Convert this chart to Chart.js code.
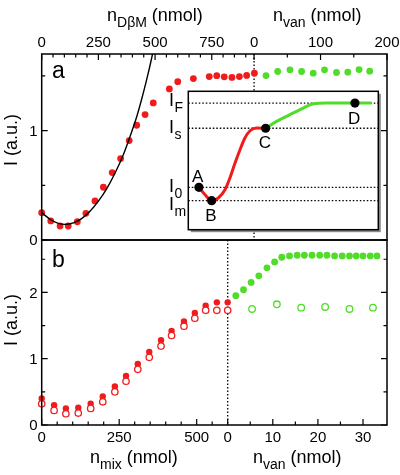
<!DOCTYPE html>
<html>
<head>
<meta charset="utf-8">
<script src="https://cdn.jsdelivr.net/npm/chart.js@4.4.1/dist/chart.umd.min.js"></script>
<style>
body { margin: 0; background: #fff; }
#wrap { position: relative; width: 400px; height: 475px; overflow: hidden; font-family: "Liberation Sans", Arial, sans-serif; }
canvas { position: absolute; left: 0; top: 0; }
.t { position: absolute; font-size: 18px; line-height: 18px; white-space: nowrap; color: #000; }
.t sub { font-size: 14px; vertical-align: -6px; line-height: 0; }
.rot { width: 80px; text-align: center; transform: rotate(-90deg); }
.pl { position: absolute; font-size: 23px; line-height: 23px; color: #000; }
</style>
</head>
<body>
<div id="wrap">
  <canvas id="pa" width="400" height="475"></canvas>
  <canvas id="pb" width="400" height="475"></canvas>
  <canvas id="ins" width="400" height="475"></canvas>
  <div class="t" style="left:107px;top:5.5px">n<sub>DβM</sub> (nmol)</div>
  <div class="t" style="left:273px;top:5.5px">n<sub>van</sub> (nmol)</div>
  <div class="t" style="left:90px;top:448px">n<sub>mix</sub> (nmol)</div>
  <div class="t" style="left:253px;top:448px">n<sub>van</sub> (nmol)</div>
  <div class="t rot" style="left:-29px;top:131px">I (a.u.)</div>
  <div class="t rot" style="left:-29px;top:311px">I (a.u.)</div>
  <div class="pl" style="left:52px;top:59px">a</div>
  <div class="pl" style="left:52px;top:248px">b</div>
</div>
<script>
// ---- panel a: D-beta-M titration (red), vancomycin (green), fit curve
const aDbmN = [0, 40, 81, 117, 157, 195, 235, 272, 311, 348, 386, 419, 456, 492, 563, 600, 669, 739, 772, 805, 839, 872, 904, 938];
const aDbmI = [0.250, 0.174, 0.128, 0.128, 0.167, 0.244, 0.357, 0.482, 0.616, 0.744, 0.909, 1.049, 1.146, 1.253, 1.381, 1.447, 1.475, 1.494, 1.502, 1.491, 1.486, 1.494, 1.504, 1.525];
const aVanN = [18, 35.5, 54, 71.5, 89, 106, 124, 141, 158, 174];
const aVanI = [1.503, 1.540, 1.555, 1.540, 1.525, 1.555, 1.531, 1.534, 1.558, 1.543];
const fitN = [0, 40, 73, 103, 140, 176, 213, 250, 287, 323, 360, 397, 418, 440, 460, 475, 490, 500];
const fitI = [0.25, 0.185, 0.152, 0.143, 0.157, 0.196, 0.263, 0.355, 0.47, 0.61, 0.78, 0.99, 1.12, 1.28, 1.44, 1.57, 1.71, 1.80];

// ---- panel b: mixture titration (filled / open), vancomycin (filled / open)
const bMixN = [0, 40, 78, 118, 158, 197, 236, 272, 310, 347, 385, 419, 459, 494, 529, 565, 600];
const bMixFilled = [0.40, 0.30, 0.25, 0.26, 0.32, 0.43, 0.58, 0.74, 0.92, 1.10, 1.28, 1.42, 1.56, 1.69, 1.80, 1.85, 1.85];
const bMixOpen = [0.32, 0.22, 0.17, 0.18, 0.25, 0.35, 0.50, 0.66, 0.84, 1.02, 1.19, 1.35, 1.49, 1.61, 1.73, 1.73, 1.73];
const bVanN = [1.8, 3.5, 5.2, 6.9, 8.7, 10.4, 12.0, 13.7, 15.4, 17.0, 18.7, 20.4, 22.0, 23.7, 25.4, 27.0, 28.5, 30.0, 31.6, 33.1];
const bVanFilled = [1.95, 2.04, 2.15, 2.25, 2.37, 2.46, 2.53, 2.55, 2.56, 2.56, 2.56, 2.56, 2.56, 2.55, 2.55, 2.55, 2.55, 2.55, 2.55, 2.55];
const bVanOpenN = [5.4, 10.9, 16.3, 21.6, 27.0, 32.2];
const bVanOpen = [1.75, 1.82, 1.77, 1.78, 1.75, 1.77];

// ---- inset (schematic, arbitrary units 0..100)
const insRedX = [5.6, 8.8, 12.3, 15.8, 19.3, 21.9, 24.6, 27.2, 29.8, 32.5, 36.0, 40.7];
const insRedY = [30.6, 25.3, 21.0, 22.9, 28.9, 37.4, 48.2, 57.8, 66.3, 71.5, 73.5, 73.3];
const insGreenX = [40.7, 46.5, 53.5, 60.5, 65.8, 72.8, 87.7, 96.5];
const insGreenY = [73.3, 78.3, 83.1, 87.9, 91.0, 91.5, 91.5, 91.5];
const insPtNames = ['A', 'B', 'C', 'D'];
const insPtX = [5.6, 12.3, 40.7, 87.7];
const insPtY = [30.6, 21.0, 73.3, 91.5];
const insLevels = [91.5, 73.3, 30.6, 21.0];
const insLevelNames = [['I', 'F'], ['I', 's'], ['I', '0'], ['I', 'm']];

// ---- ticks
const aTopD = [0, 250, 500, 750];
const aTopDLabels = ['0', '250', '500', '750'];
const aTopDMinor = [50, 100, 150, 200, 300, 350, 400, 450, 550, 600, 650, 700, 800, 850, 900];
const aTopV = [0, 100, 200];
const aTopVLabels = ['0', '100', '200'];
const aTopVMinor = [50, 150];
const aY = [0, 1];
const aYLabels = ['0', '1'];
const aYMinor = [0.5, 1.5];
const bBotM = [0, 250, 500];
const bBotMLabels = ['0', '250', '500'];
const bBotMMinor = [50, 100, 150, 200, 300, 350, 400, 450, 550];
const bBotV = [0, 10, 20, 30];
const bBotVLabels = ['0', '10', '20', '30'];
const bBotVMinor = [5, 15, 25];
const bY = [0, 1, 2];
const bYLabels = ['0', '1', '2'];
const bYMinor = [0.5, 1.5, 2.5];

const RED = '#f01c1c';
const GREEN = '#50dc28';
const fnt = s => s + 'px "Liberation Sans", Arial, sans-serif';
const pts = (xs, ys) => xs.map((x, i) => ({ x: x, y: ys[i] }));

function ticks(ctx, a, scale, vals, edge, len) {
  ctx.beginPath();
  vals.forEach(v => {
    const p = scale.getPixelForValue(v);
    if (edge === 'top') { ctx.moveTo(p, a.top); ctx.lineTo(p, a.top + len); }
    if (edge === 'bottom') { ctx.moveTo(p, a.bottom); ctx.lineTo(p, a.bottom - len); }
    if (edge === 'left') { ctx.moveTo(a.left, p); ctx.lineTo(a.left + len, p); }
    if (edge === 'right') { ctx.moveTo(a.right, p); ctx.lineTo(a.right - len, p); }
  });
  ctx.stroke();
}

function labels(ctx, a, scale, vals, texts, edge) {
  ctx.font = fnt(15);
  ctx.fillStyle = '#000';
  ctx.textBaseline = 'alphabetic';
  vals.forEach((v, i) => {
    const p = scale.getPixelForValue(v);
    if (edge === 'top') { ctx.textAlign = 'center'; ctx.fillText(texts[i], p, a.top - 6.7); }
    if (edge === 'bottom') { ctx.textAlign = 'center'; ctx.fillText(texts[i], p, a.bottom + 17.3); }
    if (edge === 'left') { ctx.textAlign = 'right'; ctx.fillText(texts[i], a.left - 4, p + 5.3); }
  });
}

function dotted(ctx, x1, y1, x2, y2) {
  ctx.save();
  ctx.setLineDash([1.5, 2]);
  ctx.lineWidth = 1.3;
  ctx.strokeStyle = '#000';
  ctx.beginPath();
  ctx.moveTo(x1, y1);
  ctx.lineTo(x2, y2);
  ctx.stroke();
  ctx.restore();
}

function frame(ctx, a) {
  ctx.strokeStyle = '#000';
  ctx.lineWidth = 1.5;
  ctx.strokeRect(a.left, a.top, a.right - a.left, a.bottom - a.top);
  ctx.lineWidth = 1.2;
}

const frameA = {
  id: 'frameA',
  beforeDatasetsDraw(chart) {
    const a = chart.chartArea;
    const x = chart.scales.xv.getPixelForValue(0);
    dotted(chart.ctx, x, a.top, x, a.bottom);
  },
  afterDatasetsDraw(chart) {
    const { ctx, chartArea: a, scales: s } = chart;
    ctx.save();
    frame(ctx, a);
    ticks(ctx, a, s.xd, aTopD, 'top', 6);
    ticks(ctx, a, s.xd, aTopDMinor, 'top', 3.5);
    ticks(ctx, a, s.xv, aTopV, 'top', 6);
    ticks(ctx, a, s.xv, aTopVMinor, 'top', 3.5);
    ticks(ctx, a, s.y, aY, 'left', 6);
    ticks(ctx, a, s.y, aYMinor, 'left', 3.5);
    ticks(ctx, a, s.y, aY, 'right', 6);
    ticks(ctx, a, s.y, aYMinor, 'right', 3.5);
    labels(ctx, a, s.xd, aTopD, aTopDLabels, 'top');
    labels(ctx, a, s.xv, aTopV, aTopVLabels, 'top');
    labels(ctx, a, s.y, aY, aYLabels, 'left');
    ctx.restore();
  }
};

const frameB = {
  id: 'frameB',
  beforeDatasetsDraw(chart) {
    const a = chart.chartArea;
    const x = chart.scales.xv.getPixelForValue(0);
    dotted(chart.ctx, x, a.top, x, a.bottom);
  },
  afterDatasetsDraw(chart) {
    const { ctx, chartArea: a, scales: s } = chart;
    ctx.save();
    frame(ctx, a);
    ticks(ctx, a, s.xm, bBotM, 'bottom', 6);
    ticks(ctx, a, s.xm, bBotMMinor, 'bottom', 3.5);
    ticks(ctx, a, s.xv, bBotV, 'bottom', 6);
    ticks(ctx, a, s.xv, bBotVMinor, 'bottom', 3.5);
    ticks(ctx, a, s.y, bY, 'left', 6);
    ticks(ctx, a, s.y, bYMinor, 'left', 3.5);
    ticks(ctx, a, s.y, bY, 'right', 6);
    ticks(ctx, a, s.y, bYMinor, 'right', 3.5);
    labels(ctx, a, s.xm, bBotM, bBotMLabels, 'bottom');
    labels(ctx, a, s.xv, bBotV, bBotVLabels, 'bottom');
    labels(ctx, a, s.y, bY.slice(1), bYLabels.slice(1), 'left');
    labels(ctx, a, s.y, [0], ['0'], 'left');
    ctx.restore();
  }
};

const insetBox = {
  id: 'insetBox',
  beforeDatasetsDraw(chart) {
    const { ctx, chartArea: a, scales: s } = chart;
    const w = a.right - a.left, h = a.bottom - a.top;
    ctx.save();
    ctx.fillStyle = '#8a8a8a';
    ctx.fillRect(a.left + 2.5, a.top + 2.5, w, h);
    ctx.fillStyle = '#fff';
    ctx.fillRect(a.left, a.top, w, h);
    const off = [2.5, 5, 4.7, 9];
    insLevels.forEach((v, i) => {
      const y = s.y.getPixelForValue(v);
      dotted(ctx, a.left, y, a.right, y);
      const [m, sub] = insLevelNames[i];
      ctx.fillStyle = '#000';
      ctx.textAlign = 'left';
      ctx.textBaseline = 'alphabetic';
      ctx.font = fnt(18);
      ctx.fillText(m, 169, y + off[i]);
      const mw = ctx.measureText(m).width;
      ctx.font = fnt(14);
      ctx.fillText(sub, 169 + mw + 0.5, y + off[i] + 6);
    });
    ctx.restore();
  },
  afterDatasetsDraw(chart) {
    const { ctx, chartArea: a, scales: s } = chart;
    ctx.save();
    ctx.strokeStyle = '#000';
    ctx.lineWidth = 1.5;
    ctx.strokeRect(a.left, a.top, a.right - a.left, a.bottom - a.top);
    const dy = [-10.5, 15.6, 15, 16.7];
    ctx.font = fnt(17);
    ctx.fillStyle = '#000';
    ctx.textAlign = 'center';
    ctx.textBaseline = 'middle';
    insPtNames.forEach((n, i) => {
      ctx.fillText(n, s.x.getPixelForValue(insPtX[i]) - (i === 0 ? 1.3 : 0.8), s.y.getPixelForValue(insPtY[i]) + dy[i]);
    });
    ctx.restore();
  }
};

const base = (padding, scales) => ({
  responsive: false,
  animation: false,
  devicePixelRatio: 1,
  events: [],
  layout: { padding: padding },
  plugins: { legend: { display: false }, tooltip: { enabled: false } },
  scales: scales
});

new Chart(document.getElementById('pa'), {
  type: 'scatter',
  data: {
    datasets: [
      { data: pts(fitN, fitI), xAxisID: 'xd', showLine: true, pointRadius: 0, borderColor: '#000', borderWidth: 1.4,
        cubicInterpolationMode: 'monotone', order: 0, clip: 0 },
      { data: pts(aDbmN, aDbmI), xAxisID: 'xd', pointRadius: 3.4, backgroundColor: RED, borderWidth: 0, clip: false, order: 1 },
      { data: pts(aVanN, aVanI), xAxisID: 'xv', pointRadius: 3.4, backgroundColor: GREEN, borderWidth: 0, clip: false, order: 1 }
    ]
  },
  options: base({ left: 41.7, right: 13, top: 54, bottom: 235 }, {
    x: { display: false },
    xd: { type: 'linear', display: false, min: 0, max: 1523 },
    xv: { type: 'linear', display: false, min: -319.5, max: 200 },
    y: { type: 'linear', display: false, min: 0, max: 1.7 }
  }),
  plugins: [frameA]
});

new Chart(document.getElementById('pb'), {
  type: 'scatter',
  data: {
    datasets: [
      { data: pts(bMixN, bMixOpen), xAxisID: 'xm', pointRadius: 3.2, backgroundColor: '#fff', borderColor: RED, borderWidth: 1.3, clip: false, order: 0 },
      { data: pts(bVanOpenN, bVanOpen), xAxisID: 'xv', pointRadius: 3.3, backgroundColor: '#fff', borderColor: GREEN, borderWidth: 1.3, clip: false, order: 0 },
      { data: pts(bMixN, bMixFilled), xAxisID: 'xm', pointRadius: 3.2, backgroundColor: RED, borderWidth: 0, clip: false, order: 1 },
      { data: pts(bVanN, bVanFilled), xAxisID: 'xv', pointRadius: 3.4, backgroundColor: GREEN, borderWidth: 0, clip: false, order: 1 }
    ]
  },
  options: base({ left: 41.7, right: 13, top: 240, bottom: 50 }, {
    x: { display: false },
    xm: { type: 'linear', display: false, min: 0, max: 1114 },
    xv: { type: 'linear', display: false, min: -41.24, max: 35.32 },
    y: { type: 'linear', display: false, min: 0, max: 2.79 }
  }),
  plugins: [frameB]
});

new Chart(document.getElementById('ins'), {
  type: 'scatter',
  data: {
    datasets: [
      { data: pts(insPtX, insPtY), pointRadius: 4.6, backgroundColor: '#000', borderWidth: 0, clip: false, order: 0 },
      { data: pts(insRedX, insRedY), showLine: true, pointRadius: 0, borderColor: RED, borderWidth: 3,
        cubicInterpolationMode: 'monotone', order: 1 },
      { data: pts(insGreenX, insGreenY), showLine: true, pointRadius: 0, borderColor: GREEN, borderWidth: 3,
        cubicInterpolationMode: 'monotone', order: 1 }
    ]
  },
  options: base({ left: 188.3, right: 21.7, top: 91.3, bottom: 245.3 }, {
    x: { type: 'linear', display: false, min: 0, max: 100 },
    y: { type: 'linear', display: false, min: 0, max: 100 }
  }),
  plugins: [insetBox]
});
</script>
</body>
</html>
